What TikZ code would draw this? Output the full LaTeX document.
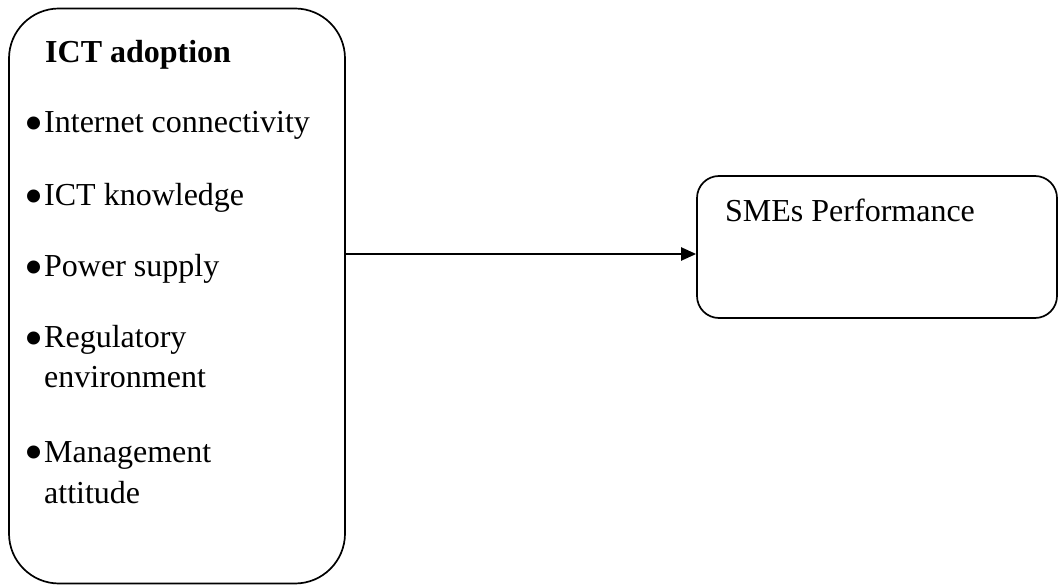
\documentclass[tikz,border=0pt]{standalone}
\usepackage{fontspec}
\setmainfont{Liberation Serif}
\usetikzlibrary{arrows.meta}
\newcommand{\bul}{\makebox[20pt][l]{\raisebox{-8.5pt}{\scalebox{1.7}{•}}}}
\begin{document}
\begin{tikzpicture}[x=1pt,y=1pt,
  box/.style={draw, line width=1.7pt, rectangle, inner sep=0pt},
  txt/.style={anchor=base west, inner sep=0pt, font=\fontsize{32}{38}\selectfont},
  item/.style={txt},
  conn/.style={line width=2.2pt, -{Triangle[length=15pt,width=13pt]}}]
\useasboundingbox (0,0) rectangle (1058,-585);
\node[box, rounded corners=50pt, minimum width=336pt, minimum height=575pt] (L) at (177,-296) {};
\node[box, rounded corners=22pt, minimum width=360pt, minimum height=142pt] (R) at (877,-247) {};
\node[txt, font=\fontsize{32}{38}\selectfont\bfseries] (title) at (45,-63) {ICT adoption};
\node[item] (i1) at (24,-133) {\bul Internet connectivity};
\node[item] (i2) at (24,-206) {\bul ICT knowledge};
\node[item] (i3) at (24,-277) {\bul Power supply};
\node[item] (i4) at (24,-348) {\bul Regulatory};
\node[txt] (i4b) at (44,-388) {environment};
\node[item] (i5) at (24,-462) {\bul Management};
\node[txt] (i5b) at (44,-503) {attitude};
\node[txt] (sme) at (725,-222) {SMEs Performance};
\coordinate (lvl) at (0,-254);
\draw[conn] (L.east |- lvl) -- (R.west |- lvl);
\end{tikzpicture}
\end{document}
